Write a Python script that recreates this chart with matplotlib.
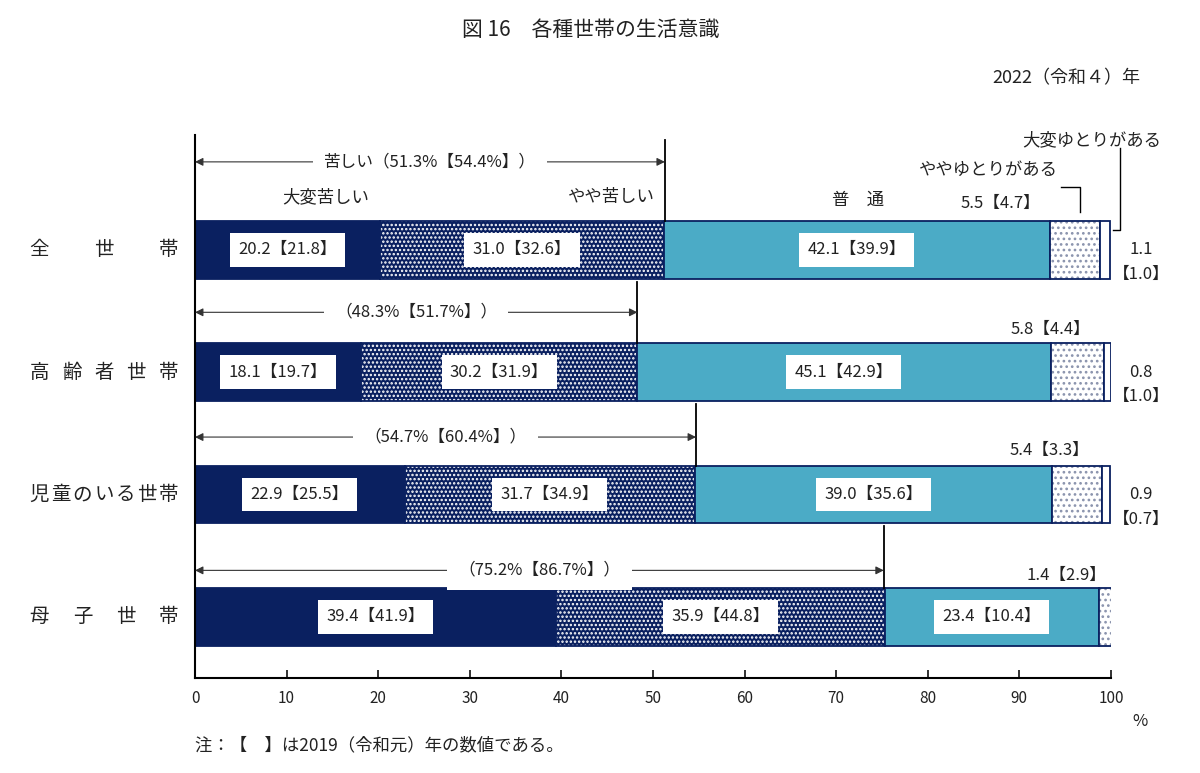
import matplotlib
matplotlib.use('Agg')
import matplotlib.pyplot as plt
from matplotlib.transforms import blended_transform_factory

plt.rcParams['font.family'] = ['Noto Sans CJK JP', 'DejaVu Sans']
plt.rcParams['hatch.linewidth'] = 1.15

# data (2022, with 2019 values in brackets)
groups = ['全世帯', '高齢者世帯', '児童のいる世帯', '母子世帯']
levels = ['大変苦しい', 'やや苦しい', '普通', 'ややゆとりがある', '大変ゆとりがある']
v2022 = [
    [20.2, 31.0, 42.1, 5.5, 1.1],
    [18.1, 30.2, 45.1, 5.8, 0.8],
    [22.9, 31.7, 39.0, 5.4, 0.9],
    [39.4, 35.9, 23.4, 1.4, 0.0],
]
v2019 = [
    [21.8, 32.6, 39.9, 4.7, 1.0],
    [19.7, 31.9, 42.9, 4.4, 1.0],
    [25.5, 34.9, 35.6, 3.3, 0.7],
    [41.9, 44.8, 10.4, 2.9, 0.0],
]
hard2022 = [51.3, 48.3, 54.7, 75.2]
hard2019 = [54.4, 51.7, 60.4, 86.7]
xticks = [0, 10, 20, 30, 40, 50, 60, 70, 80, 90, 100]

NAVY = '#0a2060'
TEAL = '#4babc6'
styles = [
    dict(facecolor=NAVY, hatch=None, hc=None),
    dict(facecolor=NAVY, hatch='....', hc='white'),
    dict(facecolor=TEAL, hatch=None, hc=None),
    dict(facecolor='white', hatch='...', hc='#8a93ad'),
    dict(facecolor='white', hatch=None, hc=None),
]

fig = plt.figure(figsize=(12, 7.73), dpi=100)
ax = fig.add_axes([0.1625, 0.1229, 0.7633, 0.7025])
ax.set_xlim(0, 100)
ax.set_ylim(3.5, -0.94)

H = 0.47
for i in range(len(groups)):
    left = 0
    for j, v in enumerate(v2022[i]):
        if v <= 0:
            continue
        st = styles[j]
        if st['hatch']:
            ax.barh(i, v, left=left, height=H, color=st['facecolor'],
                    edgecolor=st['hc'], hatch=st['hatch'], linewidth=0)
        else:
            ax.barh(i, v, left=left, height=H, color=st['facecolor'], linewidth=0)
        ax.barh(i, v, left=left, height=H, fill=False, edgecolor=NAVY, linewidth=1.3)
        # value labels inside the three big segments
        if j < 3:
            ax.text(left + v / 2, i, f'{v:.1f}【{v2019[i][j]:.1f}】', ha='center', va='center',
                    fontsize=12, color='#222222',
                    bbox=dict(facecolor='white', edgecolor='none', pad=6))
        left += v

# "苦しい" brackets: arrows and vertical lines
arrow_dy = [-0.72, -0.49, -0.47, -0.38]
line_top = [-0.9, -0.74, -0.74, -0.74]
for i in range(len(groups)):
    t = hard2022[i]
    y = i + arrow_dy[i]
    ax.plot([t, t], [i - H / 2, i + line_top[i]], color='black', lw=1.3)
    ax.annotate('', xy=(0, y), xytext=(t, y),
                arrowprops=dict(arrowstyle='<|-|>', color='#333333', lw=0.8,
                                shrinkA=0, shrinkB=0, mutation_scale=12))
    txt = f'（{t:.1f}%【{hard2019[i]:.1f}%】）'
    if i == 0:
        txt = '苦しい' + txt
    ax.text(t / 2, y, txt, ha='center', va='center', fontsize=12, color='#222222',
            bbox=dict(facecolor='white', edgecolor='none', pad=8))

# small-segment labels on the right
small_x = [87.9, 93.4, 93.3, 95.1]
small_dy = [-0.38, -0.35, -0.36, -0.34]
for i in range(len(groups)):
    ax.text(small_x[i], i + small_dy[i], f'{v2022[i][3]:.1f}【{v2019[i][3]:.1f}】',
            ha='center', va='center', fontsize=12, color='#222222')
    if v2022[i][4] > 0:
        ax.text(103.3, i, f'{v2022[i][4]:.1f}', ha='center', va='center',
                fontsize=12, color='#222222', clip_on=False)
        ax.text(103.3, i + 0.2, f'【{v2019[i][4]:.1f}】', ha='center', va='center',
                fontsize=12, color='#222222', clip_on=False)

# category headers over the first bar
ax.text(14.3, -0.43, levels[0], ha='center', va='center', fontsize=12.5, color='#222222')
ax.text(50.2, -0.43, levels[1], ha='right', va='center', fontsize=12.5, color='#222222')
ax.text(72.4, -0.41, '普　通', ha='center', va='center', fontsize=12.5, color='#222222')
ax.text(86.6, -0.65, levels[3], ha='center', va='center', fontsize=12.5, color='#222222')
ax.text(97.9, -0.9, levels[4], ha='center', va='center', fontsize=12.5, color='#222222',
        clip_on=False)
ax.plot([94.6, 96.6, 96.6], [-0.515, -0.515, -0.31], color='black', lw=1)
ax.plot([101.0, 101.0, 100.2], [-0.83, -0.16, -0.16], color='black', lw=1, clip_on=False)

# group names, letter-spaced to equal width
tr = blended_transform_factory(fig.transFigure, ax.transData)
x0, x1 = 0.0329, 0.1404
for i, g in enumerate(groups):
    n = len(g)
    for k, ch in enumerate(g):
        ax.text(x0 + (x1 - x0) * k / (n - 1), i, ch, transform=tr, ha='center', va='center',
                fontsize=14, color='#222222')

ax.set_yticks([])
ax.set_xticks(xticks)
ax.tick_params(axis='x', direction='in', length=6, width=1.3, labelsize=11, pad=9,
               colors='#222222')
for s in ['top', 'right']:
    ax.spines[s].set_visible(False)
ax.spines['left'].set_linewidth(1.5)
ax.spines['bottom'].set_linewidth(1.5)

fig.text(0.492, 0.961, '図 16　各種世帯の生活意識', ha='center', va='center', fontsize=15,
         color='#222222')
fig.text(0.95, 0.899, '2022（令和４）年', ha='right', va='center', fontsize=13, color='#222222')
fig.text(0.95, 0.066, '%', ha='center', va='center', fontsize=12, color='#222222')
fig.text(0.1625, 0.036, '注：【　】は2019（令和元）年の数値である。', ha='left', va='center',
         fontsize=12.5, color='#222222')

fig.savefig('out.png', dpi=100)
